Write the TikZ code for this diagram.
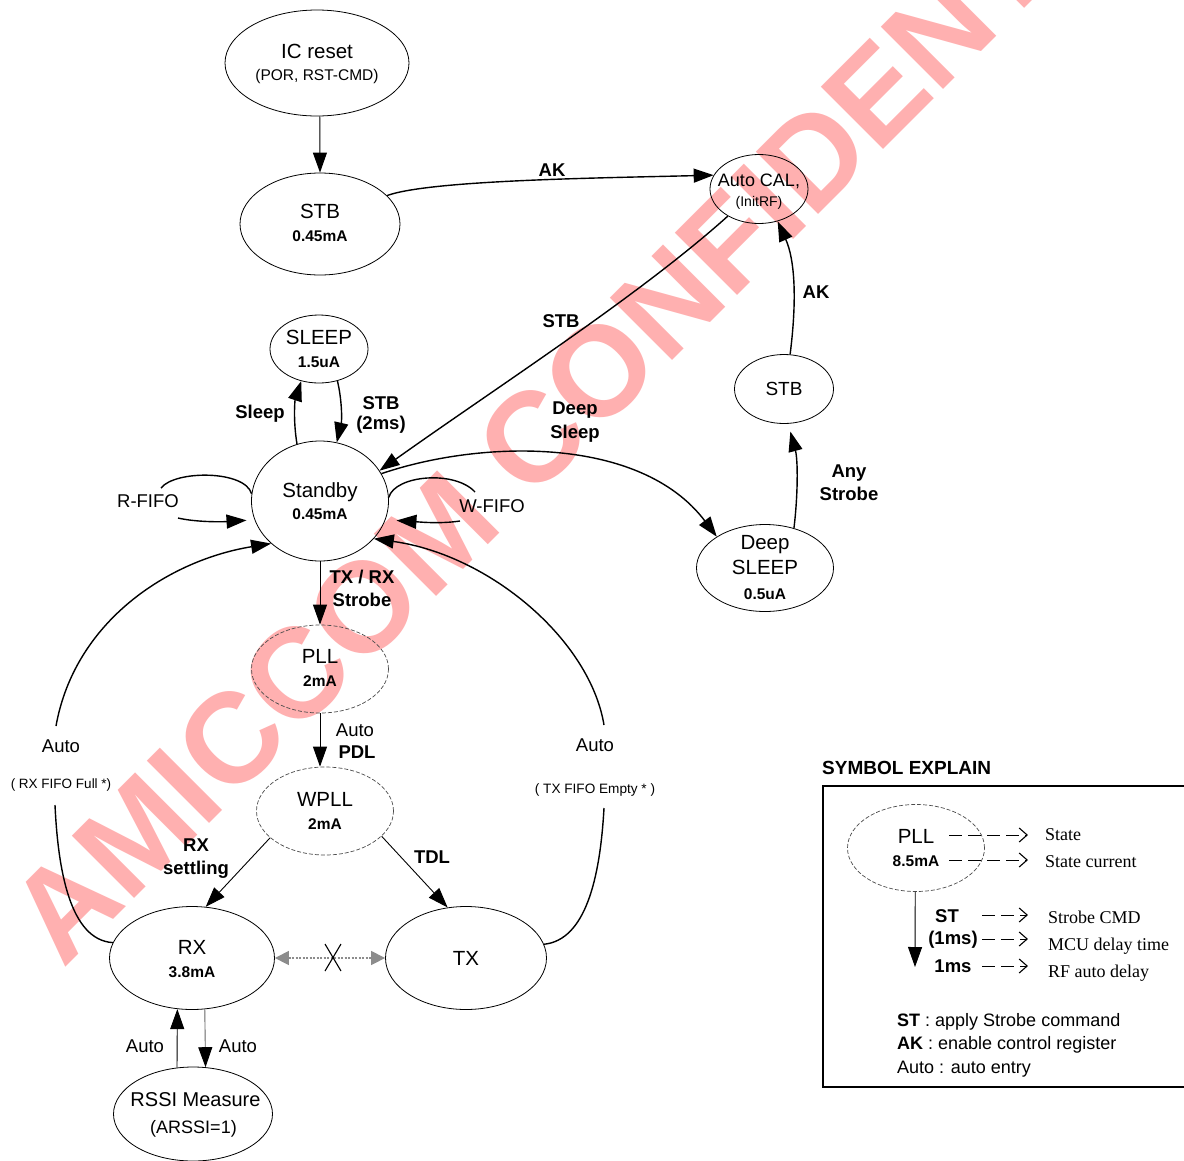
\documentclass[tikz,border=0pt]{standalone}
\usepackage{fontspec}
\setmainfont{Liberation Sans}
\newfontfamily\srf{Liberation Serif}
\usetikzlibrary{arrows.meta,shapes.geometric}
\newcommand{\fsz}[2]{\fontsize{#1}{#2}\selectfont}
\newcommand{\cur}{\fsz{15.5}{22.5}\bfseries}
\tikzset{
  st/.style={draw=black,ellipse,line width=0.8pt,inner sep=0pt},
  dst/.style={draw=black!70,ellipse,line width=0.7pt,inner sep=0pt,dash pattern=on 4pt off 2pt},
  tx/.style={inner sep=0pt,align=center,text=black,font=\fsz{20.5}{22.5}},
  lb/.style={tx,font=\fsz{18.5}{23}\bfseries},
  pl/.style={tx,font=\fsz{18.5}{23}},
  se/.style={tx,anchor=west,font=\srf\fsz{18}{20}},
  tip/.style={-{Triangle[length=20pt,width=14pt]}},
  cur/.style={tip,line width=1.4pt},
  lin/.style={tip,line width=0.9pt},
  plain/.style={line width=1.4pt},
  dsh/.style={line width=1pt,dash pattern=on 13pt off 6pt,-{Straight Barb[length=8pt,width=14pt,line width=1.1pt]}},
  wm/.style={inner sep=0pt,anchor=base west,text={rgb,255:red,255;green,176;blue,176},font=\fsz{128}{128}\bfseries,rotate=45}
}
\begin{document}
\begin{tikzpicture}[x=1pt,y=-1pt]
\path[use as bounding box,clip] (0,0) rectangle (1184,1160);
\fill[white] (0,0) rectangle (1184,1160);
\node[wm] (mark) at (63,970) {AMICCOM CONFIDENTIAL};

% states
\node[st,minimum width=184pt,minimum height=106pt] (ic) at (317,63) {};
\node[st,minimum width=160pt,minimum height=102pt] (stba) at (320,224) {};
\node[st,minimum width=98pt,minimum height=69pt] (cal) at (759,189) {};
\node[st,minimum width=98pt,minimum height=68pt] (sleep) at (319,349) {};
\node[st,minimum width=137pt,minimum height=120pt] (stdby) at (320,501) {};
\node[st,minimum width=99pt,minimum height=69pt] (stbb) at (784,389) {};
\node[st,minimum width=137pt,minimum height=87pt] (deep) at (765,568) {};
\node[dst,minimum width=137pt,minimum height=88pt] (pll) at (320,669) {};
\node[dst,minimum width=137pt,minimum height=88pt] (wpll) at (325,811) {};
\node[st,minimum width=165pt,minimum height=103pt] (rx) at (192,958) {};
\node[st,minimum width=161pt,minimum height=103pt] (txs) at (466,958) {};
\node[st,minimum width=159pt,minimum height=94pt] (rssi) at (193,1114) {};

\node[tx] (ict) at (317,64) {IC reset\\\fsz{15.5}{23}(POR, RST-CMD)};
\node[tx] (stbat) at (320,223) {STB\\\cur 0.45mA};
\node[tx,font=\fsz{18}{20}] (calt) at (759,191.5) {Auto CAL,\\\fsz{14}{20}(InitRF)};
\node[tx] (sleept) at (319,349) {SLEEP\\\cur 1.5uA};
\node[tx] (stdbyt) at (320,501) {Standby\\\cur 0.45mA};
\node[tx,font=\fsz{19}{20}] (stbbt) at (784,389) {STB};
\node[tx,font=\fsz{20.5}{25}] (deept) at (765,568) {Deep\\SLEEP\\\cur 0.5uA};
\node[tx] (pllt) at (320,668) {PLL\\\cur 2mA};
\node[tx] (wpllt) at (325,811) {WPLL\\\cur 2mA};
\node[tx] (rxt) at (192,959) {RX\\\cur 3.8mA};
\node[tx] (txst) at (466,958) {TX};
\node[tx,font=\fsz{20}{27}] (rssit) at (195.5,1114.5) {RSSI Measure\\\hspace*{-4pt}\fsz{18}{27}(ARSSI=1)};

% free ends
\coordinate (rfa) at (161,488);
\coordinate (rfb) at (178,518);
\coordinate (wfa) at (475,492);
\coordinate (wfb) at (460,521);
\coordinate (ala) at (56,726);
\coordinate (alb) at (55,805);
\coordinate (ara) at (604,725);
\coordinate (arb) at (604,808);

% connectors
\draw[lin] (ic.-87) -- (stba.north);
\draw[cur] (stba.23) .. controls (430,180) and (600,178) .. (cal.163);
\draw[cur] (cal.221) .. controls (640,295) and (500,385) .. (stdby.27);
\draw[cur] (stbb.80) .. controls (797,300) and (795,260) .. (cal.-60);
\draw[cur,shorten >=8pt] (deep.54) .. controls (798,495) and (798,460) .. (stbb.-83);
\draw[cur] (stdby.24) .. controls (480,440) and (640,435) .. (deep.147);
\draw[cur] (stdby.112) .. controls (293,420) and (295,400) .. (sleep.241);
\draw[cur] (sleep.-60) .. controls (342,400) and (342,420) .. (stdby.74);
\draw[plain] (rfa) .. controls (175,470) and (245,470) .. (stdby.174);
\draw[cur,shorten >=8pt] (rfb) .. controls (195,522) and (220,522) .. (stdby.196);
\draw[plain] (stdby.3) .. controls (395,475) and (455,470) .. (wfa);
\draw[cur,shorten >=11pt] (wfb) .. controls (440,524) and (420,522) .. (stdby.-16);
\draw[cur] (ala) .. controls (75,620) and (170,560) .. (stdby.221);
\draw[plain] (alb) .. controls (58,870) and (70,940) .. (rx.169);
\draw[cur] (ara) .. controls (590,640) and (490,555) .. (stdby.-35);
\draw[plain] (arb) .. controls (600,880) and (585,940) .. (txs.10);
\draw[lin] (stdby.south) -- (pll.north);
\draw[lin] (pll.south) -- (pll.south |- wpll.north);
\draw[lin] (wpll.206.6) -- (rx.75);
\draw[lin] (wpll.-24) -- (txs.110);
\draw[{Triangle[length=14pt,width=14pt]}-{Triangle[length=14pt,width=14pt]},black!45,line width=1.3pt,dash pattern=on 2pt off 1.5pt] (rx.east) -- (txs.west);
\coordinate (xa) at (325,944);
\coordinate (xb) at (341,971);
\coordinate (xc) at (341,944);
\coordinate (xd) at (325,971);
\draw[line width=1.1pt] (xa) -- (xb) (xc) -- (xd);
\draw[lin] (rssi.109) -- (rx.-106);
\draw[black!60,line width=0.9pt,-{Triangle[length=20pt,width=14pt,black]}] (rx.-76) -- (rssi.75.6);

% labels
\node[lb] (l1) at (552,170) {AK};
\node[lb] (l2) at (561,321) {STB};
\node[lb] (l3) at (816,292) {AK};
\node[lb] (l4) at (260,414) {Sleep};
\node[lb,font=\fsz{18.5}{20}\bfseries] (l5) at (381,415) {STB\\(2ms)};
\node[lb,font=\fsz{18.5}{24}\bfseries] (l6) at (575,422) {Deep\\Sleep};
\node[lb] (l7) at (849,483) {Any\\Strobe};
\node[pl] (l8) at (148,501) {R-FIFO};
\node[pl] (l9) at (492,506) {W-FIFO};
\node[lb] (l10) at (362,588) {TX / RX\\Strobe};
\node[pl] (l11) at (355,730) {Auto};
\node[lb] (l12) at (357,752) {PDL};
\node[pl] (l13) at (61,746) {Auto};
\node[tx,font=\fsz{13.5}{16}] (l14) at (61,784.5) {( RX FIFO Full *)};
\node[pl] (l15) at (595,745) {Auto};
\node[tx,font=\fsz{13.6}{16}] (l16) at (595,789.5) {( TX FIFO Empty * )};
\node[lb] (l17) at (196,859) {RX\\settling};
\node[lb] (l18) at (432,857) {TDL};
\node[pl] (l19) at (145,1046) {Auto};
\node[pl] (l20) at (238,1046) {Auto};

% legend
\node[tx,anchor=west,font=\fsz{19}{22}\bfseries] (lt) at (822,768) {SYMBOL EXPLAIN};
\draw[line width=1.2pt] (1190,786) -- (823,786) -- (823,1087) -- (1190,1087);
\node[dst,minimum width=137pt,minimum height=87pt] (lg) at (916,848) {};
\node[tx] (lgt) at (916,848) {PLL\\\cur 8.5mA};
\coordinate (lge) at (915,967);
\draw[lin] (lg.-91) -- (lge);
\node[lb] (lst) at (947,916) {ST};
\node[lb] (lms) at (953,940) {(1ms)};
\node[lb] (lrf) at (953,966) {1ms};
\node[se] (s1) at (1045,835) {State};
\node[se] (s2) at (1045,862) {State current};
\node[se] (s3) at (1048,917) {Strobe CMD};
\node[se] (s4) at (1048,946) {MCU delay time};
\node[se] (s5) at (1048,973) {RF auto delay};
\coordinate (d1a) at (949,835); \coordinate (d1b) at (1028,835);
\coordinate (d2a) at (949,860); \coordinate (d2b) at (1028,860);
\coordinate (d3a) at (982,915); \coordinate (d3b) at (1028,915);
\coordinate (d4a) at (982,939); \coordinate (d4b) at (1028,939);
\coordinate (d5a) at (982,966); \coordinate (d5b) at (1028,966);
\draw[dsh] (d1a) -- (d1b);
\draw[dsh] (d2a) -- (d2b);
\draw[dsh] (d3a) -- (d3b);
\draw[dsh] (d4a) -- (d4b);
\draw[dsh] (d5a) -- (d5b);
\node[tx,anchor=west,font=\fsz{18}{23.5},align=left] (ex) at (897,1045) {\textbf{ST} : apply Strobe command\\\textbf{AK} : enable control register\\Auto : auto entry};
\end{tikzpicture}
\end{document}
